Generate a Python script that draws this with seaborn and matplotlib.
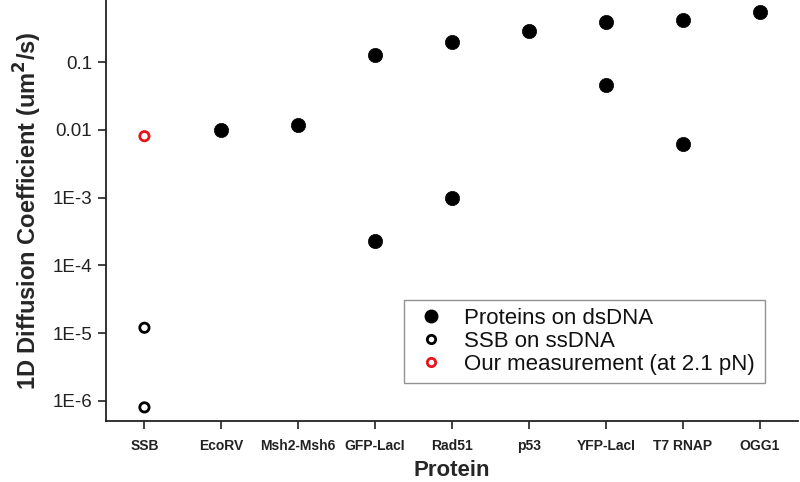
import numpy as np
import pandas as pd
import seaborn as sns
import matplotlib.pyplot as plt
from matplotlib.lines import Line2D

proteins = ['SSB', 'EcoRV', 'Msh2-Msh6', 'GFP-LacI', 'Rad51', 'p53', 'YFP-LacI', 'T7 RNAP', 'OGG1']

# proteins on dsDNA
ds_protein = ['EcoRV', 'Msh2-Msh6', 'GFP-LacI', 'GFP-LacI', 'Rad51', 'Rad51', 'p53',
              'YFP-LacI', 'YFP-LacI', 'T7 RNAP', 'T7 RNAP', 'OGG1']
ds_value = [0.010, 0.012, 0.127, 2.3e-4, 0.20, 1.0e-3, 0.29, 0.39, 0.046, 0.42, 0.0062, 0.55]

# SSB on ssDNA
ss_protein = ['SSB', 'SSB']
ss_value = [1.2e-5, 8.0e-7]

# our measurement
our_protein = ['SSB']
our_value = [0.0081]

ytick_vals = [1e-6, 1e-5, 1e-4, 1e-3, 1e-2, 1e-1]
ytick_labels = ['1E-6', '1E-5', '1E-4', '1E-3', '0.01', '0.1']

sns.set_style('ticks')
plt.rcParams['font.family'] = ['Liberation Sans', 'DejaVu Sans']

def frame(names, values):
    df = pd.DataFrame({'protein': names, 'D': values})
    df['pos'] = pd.Categorical(df['protein'], categories=proteins).codes
    return df

ds = frame(ds_protein, ds_value)
ss = frame(ss_protein, ss_value)
ours = frame(our_protein, our_value)

fig = plt.figure(figsize=(8, 4.82), dpi=100)
ax = fig.add_axes([0.1325, 0.127, 0.865, 0.873])

sns.scatterplot(data=ds, x='pos', y='D', ax=ax, color='black', s=105, edgecolor='black', linewidth=0.5)
sns.scatterplot(data=ss, x='pos', y='D', ax=ax, facecolor='none', edgecolor='black', s=45, linewidth=2)
sns.scatterplot(data=ours, x='pos', y='D', ax=ax, facecolor='none', edgecolor='#e8141b', s=45, linewidth=2)

ax.set_yscale('log')
ax.set_ylim(10 ** -6.295, 10 ** -0.08)
ax.set_xlim(-0.5, 8.5)
ax.set_yticks(ytick_vals)
ax.set_yticklabels(ytick_labels, fontsize=13.5, color='#222222')
ax.yaxis.set_minor_locator(plt.NullLocator())
ax.set_xticks(range(len(proteins)))
ax.set_xticklabels(proteins, fontsize=10, fontweight='bold', color='#222222')
ax.tick_params(axis='both', direction='out', length=6, width=1.2, color='#222222')
ax.tick_params(axis='x', pad=7)
ax.tick_params(axis='y', pad=4)
for side in ['left', 'bottom']:
    ax.spines[side].set_linewidth(1.3)
    ax.spines[side].set_color('#222222')
sns.despine(ax=ax)

ax.set_xlabel('Protein', fontsize=16, fontweight='bold', labelpad=5)
ax.set_ylabel('1D Diffusion Coefficient (um$^\\mathbf{2}$/s)', fontsize=17, fontweight='bold', labelpad=6)

handles = [
    Line2D([], [], marker='o', linestyle='none', color='black', markersize=9),
    Line2D([], [], marker='o', linestyle='none', markerfacecolor='none', markeredgecolor='black',
           markersize=6, markeredgewidth=2),
    Line2D([], [], marker='o', linestyle='none', markerfacecolor='none', markeredgecolor='#e8141b',
           markersize=6, markeredgewidth=2),
]
labels = ['Proteins on dsDNA', 'SSB on ssDNA', 'Our measurement (at 2.1 pN)']
leg = ax.legend(handles, labels, loc='upper left', bbox_to_anchor=(0.43, 0.0855, 0.522, 0.2015),
                mode='expand', fontsize=16, frameon=True, fancybox=False, handletextpad=0.55,
                labelspacing=0.1, borderpad=0.35, handlelength=1.8, borderaxespad=0)
leg.get_frame().set_edgecolor('#777777')
leg.get_frame().set_linewidth(1)
for t in leg.get_texts():
    t.set_color('#111111')

fig.savefig('out.png', dpi=100)
